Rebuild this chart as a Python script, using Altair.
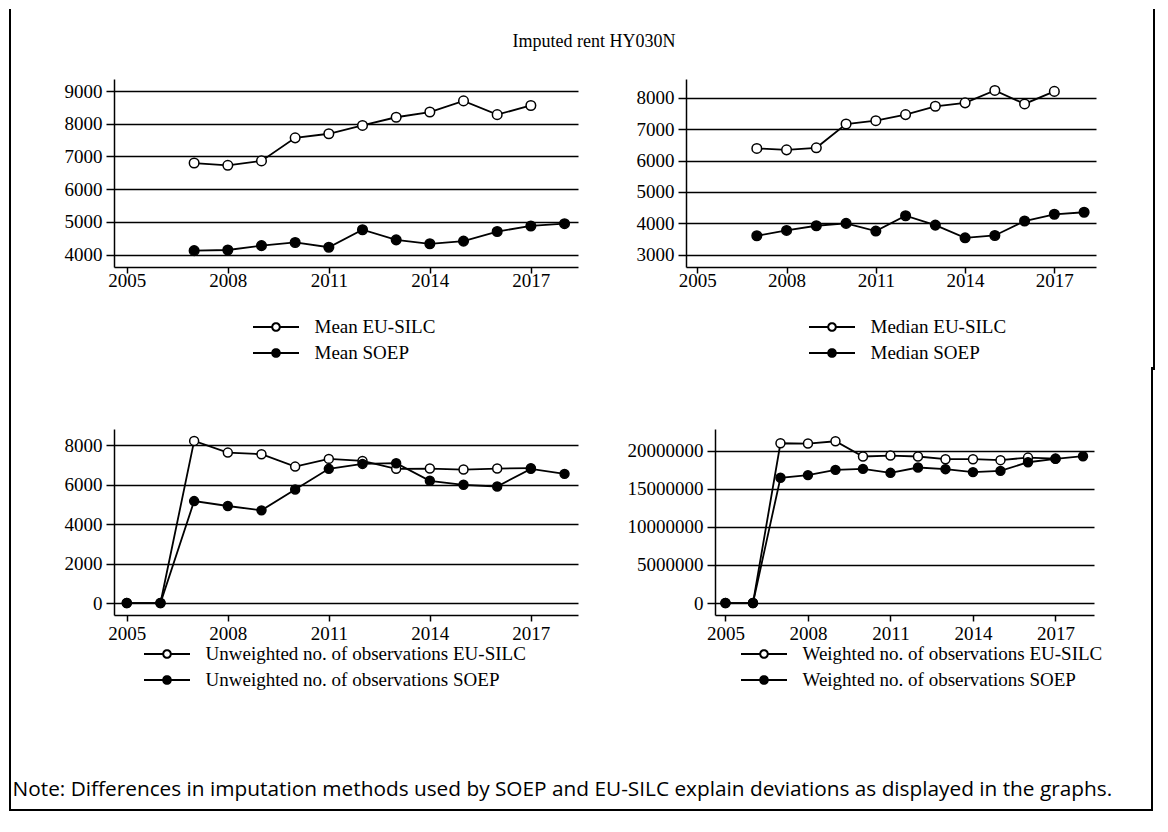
import math
import altair as alt
import pandas as pd

years = list(range(2005, 2019))

# Mean imputed rent
mean_eu = [None, None, 6800, 6730, 6865, 7570, 7695, 7950, 8200, 8360, 8700, 8280, 8560, None]
mean_soep = [None, None, 4120, 4140, 4275, 4370, 4225, 4760, 4450, 4330, 4410, 4705, 4875, 4945]
# Median imputed rent
median_eu = [None, None, 6385, 6340, 6405, 7165, 7270, 7465, 7730, 7840, 8235, 7805, 8205, None]
median_soep = [None, None, 3600, 3770, 3920, 3995, 3750, 4240, 3940, 3535, 3610, 4070, 4285, 4350]
# Unweighted number of observations
unw_eu = [0, 0, 8220, 7630, 7545, 6920, 7310, 7210, 6805, 6820, 6770, 6820, 6840, None]
unw_soep = [0, 0, 5170, 4920, 4700, 5760, 6805, 7055, 7090, 6200, 5995, 5910, 6805, 6550]
# Weighted number of observations
w_eu = [0, 0, 20960000, 20920000, 21220000, 19220000, 19350000, 19220000, 18870000,
        18870000, 18740000, 19080000, 18950000, None]
w_soep = [0, 0, 16430000, 16780000, 17470000, 17600000, 17080000, 17780000, 17560000,
          17170000, 17340000, 18470000, 18910000, 19260000]

x_ticks = [2005, 2008, 2011, 2014, 2017]
title_text = "Imputed rent HY030N"
note_text = ("Note: Differences in imputation methods used by SOEP and EU-SILC "
             "explain deviations as displayed in the graphs.")

SERIF = "Liberation Serif"

# legend key: a short line with a small circle in the middle (polygonal circle)
_r = 0.95
_circle = " ".join(
    ("M" if i == 0 else "L") + f"{_r * math.cos(2 * math.pi * i / 24):.3f},{_r * math.sin(2 * math.pi * i / 24):.3f}"
    for i in range(24)
) + " Z"
LEGEND_PATH = f"M-5.75,0 L-{_r},0 M{_r},0 L5.75,0 " + _circle

_one = pd.DataFrame({"k": [0]})


def frame_line(**kw):
    """Piece of the outer frame box (decoration, pixel offsets from the panel origin)."""
    enc = {k: alt.value(v) for k, v in kw.items()}
    return alt.Chart(_one).mark_rule(color="black", strokeWidth=2,
                                     strokeCap="square").encode(**enc)


def panel(prefix, eu, soep, ydom, yticks, width, height, lx, ly, size, xpad, frame):
    eu_lab = f"{prefix} EU-SILC"
    so_lab = f"{prefix} SOEP"
    rows = []
    for yr, v in zip(years, eu):
        if v is not None:
            rows.append({"year": yr, "value": v, "series": eu_lab})
    for yr, v in zip(years, soep):
        if v is not None:
            rows.append({"year": yr, "value": v, "series": so_lab})
    df = pd.DataFrame(rows)
    x = alt.X("year:Q",
              scale=alt.Scale(domain=[2004.62, 2018.4], nice=False, zero=False),
              axis=alt.Axis(values=x_ticks, format="d", title=None, grid=False,
                            tickSize=6, labelPadding=xpad))
    y = alt.Y("value:Q",
              scale=alt.Scale(domain=ydom, nice=False, zero=False),
              axis=alt.Axis(values=yticks, format="d", title=None, grid=True,
                            tickSize=8, labelPadding=4))
    lines = alt.Chart(df).mark_line(color="black", strokeWidth=1.8).encode(
        x=x, y=y, detail="series:N")
    pts = alt.Chart(df).mark_point(
        shape="circle", filled=True, stroke="black", strokeWidth=1.5,
        size=size, opacity=1
    ).encode(
        x=x, y=y,
        fill=alt.Fill("series:N",
                      scale=alt.Scale(domain=[eu_lab, so_lab], range=["white", "black"]),
                      legend=alt.Legend(
                          title=None, orient="none", legendX=lx, legendY=ly,
                          padding=0, symbolType=LEGEND_PATH, symbolSize=64,
                          symbolStrokeColor="black", symbolStrokeWidth=2,
                          symbolOffset=13.5, labelOffset=29, labelLimit=600,
                          labelFont=SERIF, labelFontSize=19, labelColor="black",
                          rowPadding=6)),
    )
    layers = [frame_line(**f) for f in frame] + [lines, pts]
    return alt.layer(*layers).properties(width=width, height=height)


tl = panel("Mean", mean_eu, mean_soep, [3620, 9370], [4000, 5000, 6000, 7000, 8000, 9000],
           464, 188, 139, 238.5, 92, -2,
           frame=[dict(x=-104, y=-69, y2=290)])
tr = panel("Median", median_eu, median_soep, [2604, 8600], [3000, 4000, 5000, 6000, 7000, 8000],
           410, 188, 123, 238.5, 92, -2,
           frame=[dict(x=468, y=-69, y2=290)])
bl = panel("Unweighted no. of observations", unw_eu, unw_soep, [-606, 8825],
           [0, 2000, 4000, 6000, 8000], 464, 186, 30, 215.5, 80, 3,
           frame=[dict(x=-104, y=-61, y2=381), dict(x=-104, x2=508, y=381)])
br = panel("Weighted no. of observations", w_eu, w_soep, [-1570000, 22830000],
           [0, 5000000, 10000000, 15000000, 20000000], 379, 186, 26, 215.5, 80, 3,
           frame=[dict(x=437, y=-61, y2=381), dict(x=-93, x2=437, y=381)])

top = alt.hconcat(tl, tr, spacing=58).resolve_scale(fill="independent").properties(
    title=alt.TitleParams(title_text, anchor="middle", font=SERIF, fontSize=18,
                          fontWeight="normal", color="black", offset=-42, dx=12))
bottom = alt.hconcat(bl, br, spacing=-4).resolve_scale(fill="independent")

chart = alt.vconcat(top, bottom, spacing=-5).resolve_scale(fill="independent").properties(
    title=alt.TitleParams(note_text, orient="bottom", anchor="start", font="Open Sans",
                          fontSize=20.8, fontWeight="normal", color="black", offset=-31, dx=4),
    padding={"left": 0, "top": 0, "right": 0, "bottom": 0},
).configure_view(stroke=None).configure_axis(
    domainColor="black", domainWidth=1.5, tickColor="black", tickWidth=1.5,
    labelFont=SERIF, labelFontSize=19, labelColor="black",
    gridColor="black", gridWidth=1.5, gridOpacity=1,
)

chart.save("out.html", embed_options={"renderer": "svg", "actions": False})
